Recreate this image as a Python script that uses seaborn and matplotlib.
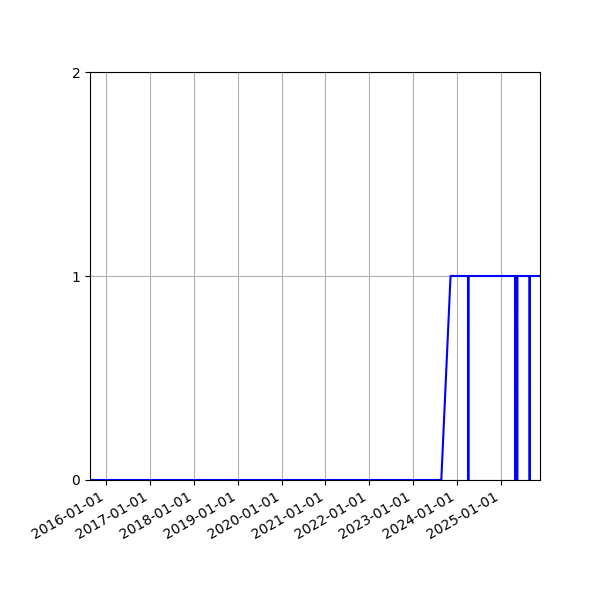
import pandas as pd
import numpy as np
import matplotlib
matplotlib.use("Agg")
import matplotlib.pyplot as plt
import matplotlib.dates as mdates
import seaborn as sns

# status series (0 = off, 1 = on)
dates = ["2015-08-20", "2023-08-24", "2023-11-09",
         "2024-04-04", "2024-04-05", "2024-04-06",
         "2025-04-29", "2025-04-30", "2025-05-01",
         "2025-05-16", "2025-05-17", "2025-05-18",
         "2025-08-28", "2025-08-29", "2025-08-30",
         "2025-11-23"]
status = [0, 0, 1,
          1, 0, 1,
          1, 0, 1,
          1, 0, 1,
          1, 0, 1,
          1]
yticks = [0, 1, 2]

df = pd.DataFrame({"date": pd.to_datetime(dates), "status": status})

fig, ax = plt.subplots(figsize=(6, 6), dpi=100)
sns.lineplot(data=df, x="date", y="status", color="blue", linewidth=1.5, ax=ax)
ax.set_xlim(df["date"].min(), df["date"].max())
ax.set_ylim(0, 2)
ax.set_yticks(yticks)
ax.xaxis.set_major_locator(mdates.YearLocator())
ax.xaxis.set_major_formatter(mdates.DateFormatter("%Y-%m-%d"))
ax.set_xlabel("")
ax.set_ylabel("")
ax.grid(True)
fig.autofmt_xdate()
fig.subplots_adjust(left=0.15, right=0.9, top=0.88, bottom=0.2)
fig.savefig("out.png")
